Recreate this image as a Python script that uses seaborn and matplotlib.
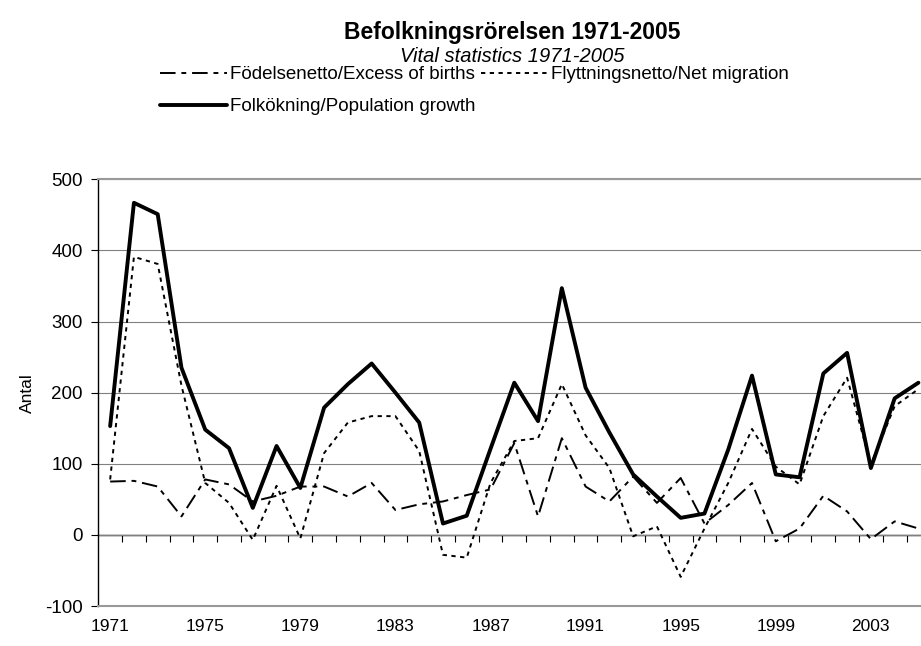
import numpy as np
import pandas as pd
import seaborn as sns
import matplotlib.pyplot as plt

# Data
years = list(range(1971, 2006))
births = [75, 76, 68, 26, 78, 71, 47, 55, 68, 68,
          54, 73, 35, 43, 47, 56, 64, 129, 26, 136,
          68, 47, 82, 45, 80, 16, 42, 73, -9, 9,
          55, 33, -6, 19, 9]
migration = [78, 391, 381, 210, 73, 45, -7, 69, -5, 115,
             158, 167, 167, 118, -28, -32, 73, 132, 136, 212,
             140, 94, -2, 12, -59, 9, 73, 149, 96, 71,
             167, 221, 99, 181, 205]
growth = [153, 467, 451, 235, 148, 122, 38, 125, 66, 179,
          212, 241, 200, 158, 16, 27, 121, 214, 160, 347,
          207, 144, 85, 54, 24, 30, 120, 224, 85, 81,
          227, 256, 94, 192, 214]

lbl_births = "Födelsenetto/Excess of births"
lbl_migr = "Flyttningsnetto/Net migration"
lbl_growth = "Folkökning/Population growth"

df = pd.DataFrame({"pos": np.arange(len(years)), "year": years,
                   "births": births, "migration": migration, "growth": growth})

sns.set_style("white")
plt.rcParams["font.family"] = ["Liberation Sans", "DejaVu Sans"]
plt.rcParams["axes.unicode_minus"] = False
for key in ["text.color", "axes.labelcolor", "xtick.color", "ytick.color"]:
    plt.rcParams[key] = "black"

fig = plt.figure(figsize=(9.21, 6.46), dpi=100)
ax = fig.add_axes([0.1067, 0.0619, 0.9034, 0.6605])

sns.lineplot(data=df, x="pos", y="births", ax=ax, color="black", lw=1.4,
             label=lbl_births)
sns.lineplot(data=df, x="pos", y="migration", ax=ax, color="black", lw=1.4,
             label=lbl_migr)
sns.lineplot(data=df, x="pos", y="growth", ax=ax, color="black", lw=2.8,
             label=lbl_growth)
ax.lines[0].set_dashes((8, 3, 2.5, 3))
ax.lines[1].set_dashes((2.2, 2.3))

ax.set_xlim(-0.5, len(years) - 0.5)
ax.set_ylim(-100, 500)
ax.set_yticks(range(-100, 501, 100))
ax.yaxis.grid(True, color="#808080", lw=0.8)
ax.set_axisbelow(True)

# category labels every fourth year along the bottom border
lab_pos = df["pos"][::4]
ax.set_xticks(lab_pos)
ax.set_xticklabels(df["year"][::4])
ax.tick_params(axis="x", length=0, pad=9, labelsize=12.5)
ax.tick_params(axis="y", length=5, direction="out", color="black",
               labelsize=13.5, left=True, pad=6)
ax.set_xlabel("")
ax.set_ylabel("Antal", fontsize=12.5)
ax.yaxis.set_label_coords(-0.076, 0.5)

for side in ["top", "bottom", "right"]:
    ax.spines[side].set_color("#999999")
    ax.spines[side].set_linewidth(1.5)
ax.spines["left"].set_color("black")
ax.spines["left"].set_linewidth(1.0)

# x axis crossing at zero, tick marks between categories
zero_axis = ax.secondary_xaxis((0 - (-100)) / 600)
zero_axis.set_xticks(np.arange(len(years) - 1) + 0.5)
zero_axis.set_xticklabels([])
zero_axis.tick_params(length=5, direction="out", color="black", width=0.8)
zero_axis.spines["bottom"].set_color("black")
zero_axis.spines["bottom"].set_linewidth(1.0)

handles, labels = ax.get_legend_handles_labels()
ax.get_legend().remove()
order = [0, 2, 1]
fig.legend([handles[i] for i in order], [labels[i] for i in order],
           loc="center", bbox_to_anchor=(0.515, 0.8595), ncol=2, frameon=False,
           fontsize=13.5, handlelength=3.6, handletextpad=0.15,
           columnspacing=0.3, labelspacing=0.8)

fig.text(0.556, 0.949, "Befolkningsrörelsen 1971-2005", ha="center",
         va="center", fontsize=16.5, fontweight="bold")
fig.text(0.556, 0.912, "Vital statistics 1971-2005", ha="center",
         va="center", fontsize=14.5, style="italic")

fig.savefig("out.png", dpi=100)
